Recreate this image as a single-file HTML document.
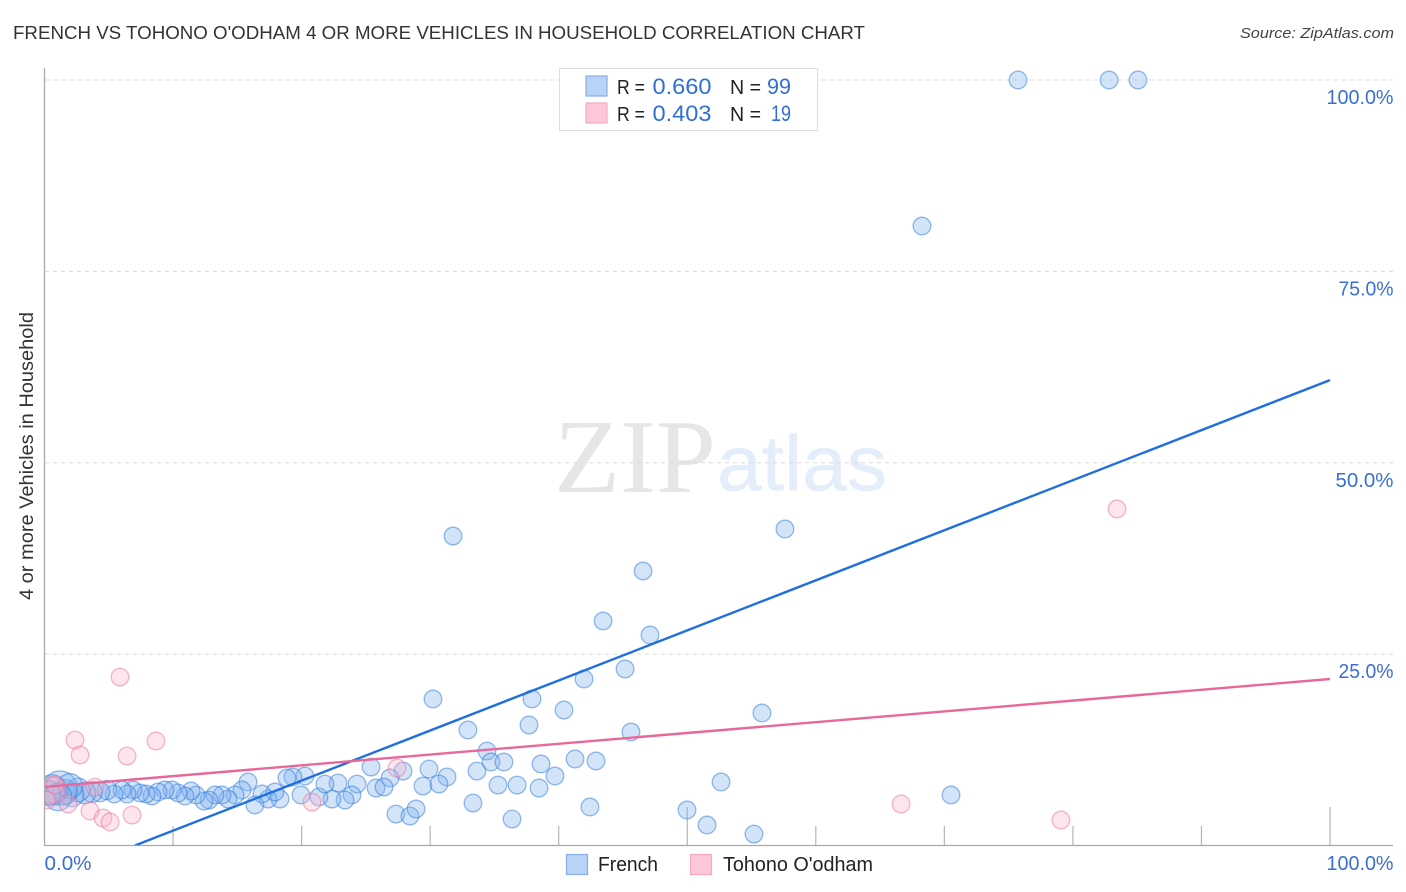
<!DOCTYPE html>
<html lang="en">
<head>
<meta charset="utf-8">
<title>French vs Tohono O'odham 4 or More Vehicles in Household Correlation Chart</title>
<style>
html,body{margin:0;padding:0;background:#fff;}
body{width:1406px;height:892px;overflow:hidden;}
svg{display:block;font-family:"Liberation Sans",sans-serif;}
</style>
</head>
<body>
<svg id="chart" width="1406" height="892" viewBox="0 0 1406 892">
  <defs><clipPath id="plot-clip"><rect x="45" y="68" width="1348" height="777"/></clipPath></defs>
  <text x="13" y="39" font-size="18.5" fill="#333" textLength="852" lengthAdjust="spacingAndGlyphs">FRENCH VS TOHONO O'ODHAM 4 OR MORE VEHICLES IN HOUSEHOLD CORRELATION CHART</text>
  <text x="1394" y="38" font-size="15" font-style="italic" fill="#444" text-anchor="end" textLength="154" lengthAdjust="spacingAndGlyphs">Source: ZipAtlas.com</text>
  <g id="watermark">
    <text x="554" y="492" font-family="'Liberation Serif',serif" font-size="105" fill="#e6e6e6" textLength="162" lengthAdjust="spacingAndGlyphs">ZIP</text>
    <text x="717" y="490" font-size="78" fill="#e4edfa" stroke="#e4edfa" stroke-width="0.5" textLength="170" lengthAdjust="spacingAndGlyphs">atlas</text>
  </g>
  <g id="grid"></g>
  <g id="axes"></g>
  <g id="marks" clip-path="url(#plot-clip)"></g>
  <text transform="translate(33,456) rotate(-90)" font-size="19" fill="#333" text-anchor="middle" textLength="288" lengthAdjust="spacingAndGlyphs">4 or more Vehicles in Household</text>

  <g>
    <rect x="559.5" y="68.5" width="258" height="62" fill="#fff" stroke="#ddd"/>
    <rect x="586" y="76" width="21" height="20" fill="#b9d3f7" stroke="#88aee8" stroke-width="1.2"/>
    <text x="617" y="94" font-size="20" fill="#222" textLength="28" lengthAdjust="spacingAndGlyphs">R =</text>
    <text x="652.5" y="94" font-size="22" fill="#2f6fd6" textLength="59" lengthAdjust="spacingAndGlyphs">0.660</text>
    <text x="730" y="94" font-size="20" fill="#222" textLength="31" lengthAdjust="spacingAndGlyphs">N =</text>
    <text x="767" y="94" font-size="22" fill="#2f6fd6" textLength="24" lengthAdjust="spacingAndGlyphs">99</text>
    <rect x="586" y="103" width="21" height="20" fill="#fcc8d9" stroke="#f3a9c2" stroke-width="1.2"/>
    <text x="617" y="121" font-size="20" fill="#222" textLength="28" lengthAdjust="spacingAndGlyphs">R =</text>
    <text x="652.5" y="121" font-size="22" fill="#2f6fd6" textLength="59" lengthAdjust="spacingAndGlyphs">0.403</text>
    <text x="730" y="121" font-size="20" fill="#222" textLength="31" lengthAdjust="spacingAndGlyphs">N =</text>
    <text x="771" y="121" font-size="22" fill="#2f6fd6" textLength="20" lengthAdjust="spacingAndGlyphs">19</text>
  </g>

  <g>
    <rect x="566.5" y="854.5" width="21" height="20" fill="#b9d3f7" stroke="#88aee8" stroke-width="1.2"/>
    <text x="598" y="871" font-size="20" fill="#222" textLength="60" lengthAdjust="spacingAndGlyphs">French</text>
    <rect x="690.5" y="854.5" width="21" height="20" fill="#fcc8d9" stroke="#f3a9c2" stroke-width="1.2"/>
    <text x="723" y="871" font-size="20" fill="#222" textLength="150" lengthAdjust="spacingAndGlyphs">Tohono O'odham</text>
  </g>
</svg>
<script>
const frenchX = [75.73,82.81,85.06,68.26,31.78,57.60,46.56,43.45,47.10,45.16,41.97,37.92,30.22,40.41,55.81,37.69,32.94,45.62,34.42,41.27,42.90,34.73,35.74,38.62,25.40,29.91,27.89,33.64,31.31,39.71,26.88,52.63,70.52,29.44,30.69,35.28,36.76,38.47,22.83,24.31,25.79,26.41,23.92,23.38,22.36,21.35,19.95,21.82,20.26,19.33,18.86,15.83,33.33,42.43,49.98,27.34,28.43,28.90,36.37,51.54,55.19,18.32,17.39,17.93,16.92,16.37,15.36,14.82,14.27,13.81,13.26,12.80,12.41,11.79,11.40,10.93,10.39,9.92,9.37,8.83,8.36,7.90,7.43,6.88,6.42,6.03,5.41,4.86,4.32,3.70,3.15,2.61,2.14,1.59,1.21,0.58,0.27,1.98,1.05];
const frenchY = [100,100,100,80.93,40.43,41.35,35.86,29.33,27.50,23.06,21.75,19.14,19.14,17.70,17.31,15.74,15.09,14.83,12.34,11.30,11.04,10.91,10.91,10.65,10.25,9.99,9.73,9.73,8.95,9.08,8.82,8.30,6.60,7.77,8.03,7.90,7.90,7.51,8.16,8.03,7.51,7.64,6.60,5.94,6.07,6.34,6.60,8.03,9.08,8.95,8.82,8.30,5.55,5.03,4.64,4.11,3.85,4.77,3.46,2.68,1.50,6.07,6.07,6.99,6.73,5.29,7.25,6.60,6.07,6.60,6.60,5.94,5.81,6.60,7.12,6.47,6.86,7.25,7.25,6.99,6.47,6.73,6.86,7.25,6.73,7.25,6.73,7.25,6.99,6.99,6.86,7.25,6.60,6.99,7.50,7.25,6.86,7.77,6.34];
const frenchWeight = [1,1,1,1,1,1,1,1,1,1,
  1,1,1,1,1,1,1,1,1,1,
  1,1,1,1,1,1,1,1,1,1,
  1,1,1,1,1,1,1,1,1,1,
  1,1,1,1,1,1,1,1,1,1,
  1,1,1,1,1,1,1,1,1,1,
  1,1,1,1,1,1,1,1,1,1,
  1,1,1,1,1,1,1,1,1,1,
  1,1,1,1,1,1,1,
  1.2,1.2,1.4,1.5,1.8,1.8,2,3.8,3,2,2,2.4];
const tohonoX = [83.43,5.87,2.37,8.67,2.76,6.42,27.42,20.81,66.63,79.07,6.81,3.54,4.55,5.10,1.83,3.93,0.58,0.19,0.82];
const tohonoY = [43.96,22.01,13.78,13.65,11.82,11.69,10.12,5.68,5.42,3.33,3.98,4.51,3.59,3.07,5.42,7.64,7.25,5.94,7.90];
const tohonoWeight = [1,1,1,1,1,1,1,1,1,1,1,1,1,1,1,1,2.2,1,1];
const frenchTrend = [-4.6,60.8];
const tohonoTrend = [7.65,21.75];
const yTickValues = [25,50,75,100];
const yTickLabels = ["25.0%","50.0%","75.0%","100.0%"];
const xTickValues = [0,10,20,30,40,50,60,70,80,90,100];
const xEndLabels = ["0.0%","100.0%"];

const NS = 'http://www.w3.org/2000/svg';
const sx = v => 44.5 + v * 12.855;
const sy = v => 845.5 - v * 7.655;
function mk(parent, tag, attrs, text) {
  const el = document.createElementNS(NS, tag);
  for (const k in attrs) el.setAttribute(k, attrs[k]);
  if (text !== undefined) el.textContent = text;
  parent.appendChild(el);
  return el;
}
const grid = document.getElementById('grid');
const axes = document.getElementById('axes');
const marks = document.getElementById('marks');

yTickValues.forEach((v, i) => {
  const line = mk(grid, 'line', {x1: 45, x2: 1393, y1: sy(v), y2: sy(v), stroke: '#dcdcdc', 'stroke-width': 1, 'stroke-dasharray': '4 4'});
  
  
  const widths = {"25.0%": 55, "50.0%": 58, "75.0%": 55, "100.0%": 67};
  const label = mk(axes, 'text', {x: 1393.5, y: sy(v) + 24, 'font-size': 20, fill: '#3a6fd3', 'text-anchor': 'end', textLength: widths[yTickLabels[i]], lengthAdjust: 'spacingAndGlyphs'}, yTickLabels[i]);
  
  
});

const yAxis = mk(axes, 'line', {x1: 44.5, x2: 44.5, y1: 68, y2: 846, stroke: '#aaa', 'stroke-width': 1.3});


const xAxis = mk(axes, 'line', {x1: 44, x2: 1393, y1: 845.5, y2: 845.5, stroke: '#aaa', 'stroke-width': 1.3});



xTickValues.slice(1).forEach(v => {
  const long = v % 50 === 0;
  const tick = mk(axes, 'line', {x1: sx(v), x2: sx(v), y1: long ? 807 : 826, y2: 845, stroke: '#b5b5b5', 'stroke-width': 1.2});
  
  
});
const xLabelLeft = mk(axes, 'text', {x: 44.5, y: 870, 'font-size': 20, fill: '#3a6fd3', textLength: 47, lengthAdjust: 'spacingAndGlyphs'}, xEndLabels[0]);


const xLabelRight = mk(axes, 'text', {x: 1393.5, y: 870, 'font-size': 20, fill: '#3a6fd3', 'text-anchor': 'end', textLength: 67, lengthAdjust: 'spacingAndGlyphs'}, xEndLabels[1]);



function drawPoints(xs, ys, ws, fill, stroke, name) {
  xs.forEach((x, i) => {
    const c = mk(marks, 'circle', {cx: sx(x), cy: sy(ys[i]), r: 8.8 * Math.sqrt(ws[i]), fill: fill, 'fill-opacity': 0.34, stroke: stroke, 'stroke-opacity': 0.5, 'stroke-width': 1.3});
    
    
  });
}
drawPoints(frenchX, frenchY, frenchWeight, '#7fb0ee', '#2a78dc', 'french-point');
drawPoints(tohonoX, tohonoY, tohonoWeight, '#f9b3ca', '#ea6f9b', 'tohono-point');

function trendPath(tr) {
  const slope = (tr[1] - tr[0]) / 100;
  const startX = tr[0] < 0 ? -tr[0] / slope : 0;
  return {x1: sx(startX), y1: sy(tr[0] + slope * startX), x2: sx(100), y2: sy(tr[1])};
}
const blueLine = mk(marks, 'line', Object.assign(trendPath(frenchTrend), {stroke: '#1f6fdc', 'stroke-width': 2.4}));


const pinkLine = mk(marks, 'line', Object.assign(trendPath(tohonoTrend), {stroke: '#e8689a', 'stroke-width': 2.4}));


</script>
</body>
</html>
